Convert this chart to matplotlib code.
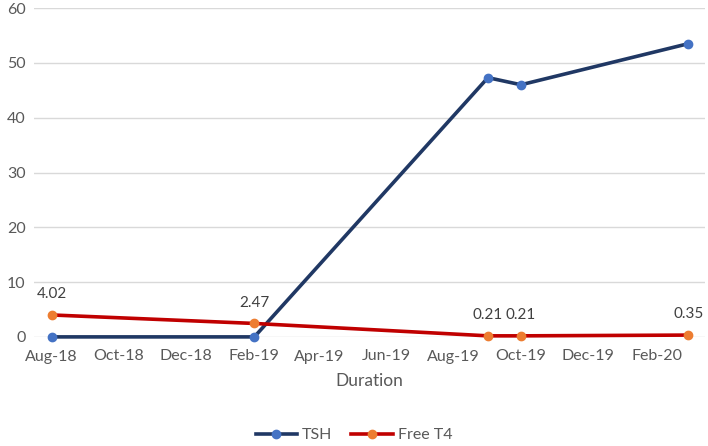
import matplotlib
matplotlib.use("Agg")
import matplotlib.pyplot as plt
import matplotlib.dates as mdates
from datetime import datetime

plt.rcParams['font.family'] = ['Lato', 'DejaVu Sans']

dates = ["2018-08-01", "2019-02-01", "2019-09-01", "2019-10-01", "2020-03-01"]
tsh = [0.02, 0.02, 47.3, 46.0, 53.5]
free_t4 = [4.02, 2.47, 0.21, 0.21, 0.35]
tick_months = ["2018-08-01", "2018-10-01", "2018-12-01", "2019-02-01", "2019-04-01",
               "2019-06-01", "2019-08-01", "2019-10-01", "2019-12-01", "2020-02-01"]
y_ticks = [0, 10, 20, 30, 40, 50, 60]

x = [datetime.strptime(d, "%Y-%m-%d") for d in dates]
xt = [datetime.strptime(d, "%Y-%m-%d") for d in tick_months]

W, H = 708, 446
fig = plt.figure(figsize=(W/100, H/100), dpi=100)
ax = fig.add_axes([34/W, 1-337/H, (705-34)/W, (337-8)/H])

txt = "#595959"
ax.plot(x, tsh, color="#203864", lw=2.6, marker="o", ms=6,
        mfc="#4472C4", mec="#4472C4", label="TSH", zorder=3, clip_on=False)
ax.plot(x, free_t4, color="#C00000", lw=2.6, marker="o", ms=6,
        mfc="#ED7D31", mec="#ED7D31", label="Free T4", zorder=4, clip_on=False)

for xi, v in zip(x, free_t4):
    ax.annotate(f"{v:.2f}", (xi, v), xytext=(0, 10), textcoords="offset points",
                ha="center", va="bottom", fontsize=11, color="#404040")

ax.set_xlim(datetime(2018, 7, 16), datetime(2020, 3, 16))
ax.set_ylim(0, 60)
ax.set_yticks(y_ticks)
ax.set_xticks(xt)
ax.xaxis.set_major_formatter(mdates.DateFormatter("%b-%y"))
ax.grid(axis="y", color="#D9D9D9", lw=1)
ax.set_axisbelow(True)
for s in ax.spines.values():
    s.set_visible(False)
ax.tick_params(axis="both", length=0, colors=txt, labelsize=11.5)
ax.tick_params(axis="x", pad=9)
ax.tick_params(axis="y", pad=6)
ax.set_xlabel("Duration", color=txt, fontsize=12.5, labelpad=7)

fig.legend(loc="center", bbox_to_anchor=(0.5, 1-435/H), ncol=2, frameon=False,
           fontsize=11.5, labelcolor=txt, handlelength=2.6, columnspacing=1.2,
           handletextpad=0.3)

fig.savefig("out.png", dpi=100)
